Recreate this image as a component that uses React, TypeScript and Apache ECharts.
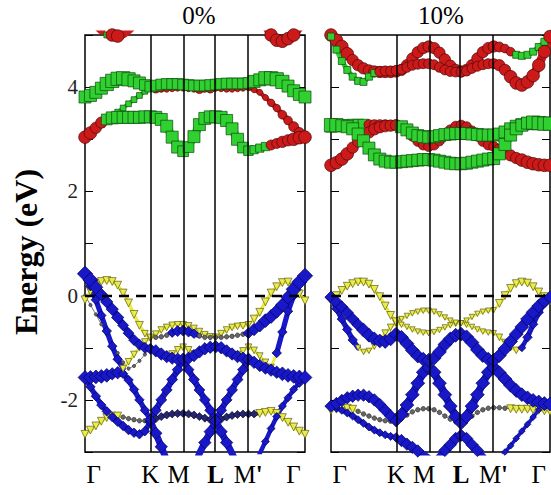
import React, { useEffect, useRef } from "react";
import * as echarts from "echarts";

const SERIF = '"Liberation Serif", "Times New Roman", "DejaVu Serif", serif';

// k-path sampling: Γ–K (12 steps), K–M, M–L, L–M' (6 steps each), M'–Γ (10 steps)
const K_PATH = [
  0, 0.0248, 0.0495, 0.0743, 0.099, 0.1238, 0.1485, 0.1733, 0.198, 0.2228, 0.2475, 0.2723, 0.297,
  0.3218, 0.3467, 0.3715, 0.3963, 0.4212, 0.446,
  0.4707, 0.4953, 0.52, 0.5447, 0.5693, 0.594,
  0.6188, 0.6437, 0.6685, 0.6933, 0.7182, 0.743,
  0.7687, 0.7944, 0.8201, 0.8458, 0.8715, 0.8972, 0.9229, 0.9486, 0.9743, 1.0,
];
const HIGH_SYM_K = [0.297, 0.446, 0.594, 0.743];
const X_LABEL_POS = [0.04, 0.297, 0.425, 0.594, 0.742, 0.948];
const X_LABELS = ["Γ", "K", "M", "{b|L}", "M{b|'}", "Γ"];
const Y_LABELS = [-2, 0, 2, 4];
const PANEL_TITLES = ["0%", "10%"];

// ---------------- 0 % panel ----------------
const L_G1_E = [3.81, 3.84, 3.9, 3.98, 4.06, 4.12, 4.16, 4.17, 4.15, 4.12, 4.08, 4.04, 4.01,
  4.03, 4.05, 4.06, 4.06, 4.06, 4.05,
  4.04, 4.03, 4.03, 4.03, 4.04, 4.05,
  4.06, 4.07, 4.07, 4.07, 4.07, 4.08,
  4.11, 4.14, 4.17, 4.17, 4.15, 4.1, 4.02, 3.93, 3.86, 3.81];
const L_G1_O = "ggggggggggggg gggggg gggggg gggggg gggggggggg";
const L_G1_W = "8888999998877 777777 777777 777777 8899998888";

const L_G2_E = [3.04, 3.12, 3.22, 3.32, 3.38, 3.41, 3.42, 3.42, 3.42, 3.42, 3.42, 3.43, 3.43,
  3.42, 3.38, 3.25, 3.04, 2.85, 2.77,
  2.85, 3.05, 3.28, 3.4, 3.43, 3.43,
  3.42, 3.36, 3.2, 3.0, 2.84, 2.78,
  2.8, 2.83, 2.86, 2.89, 2.92, 2.95, 2.98, 3.0, 3.03, 3.04];
const L_G2_O = "rrrrggggggggg gggggg gggggg gggggg gggrrrrrrr";
const L_G2_W = "8877788888888 888887 788888 888876 5556677888";

const L_G3_E = [3.04, 3.12, 3.2, 3.28, 3.36, 3.44, 3.52, 3.6, 3.68, 3.76, 3.84, 3.92, 3.99,
  3.97, 3.96, 3.96, 3.97, 3.98, 3.98,
  3.97, 3.96, 3.96, 3.96, 3.97, 3.98,
  3.97, 3.96, 3.96, 3.97, 3.98, 3.99,
  3.95, 3.9, 3.8, 3.7, 3.6, 3.47, 3.36, 3.24, 3.13, 3.04];
const L_G3_O = "ggggggggggggg rrrrrr rrrrrr rrrrrr rrrrrrrrrr";
const L_G3_W = "4333333333333 533333 335353 333333 3334455667";

const L_G4_E = [5.4, 5.3, 5.2, 5.1, 5.0, 5.0, 4.98, 5.02, 5.1, 5.2, 5.4, 5.6, 5.7,
  5.8, 5.8, 5.8, 5.8, 5.8, 5.8,
  5.8, 5.8, 5.8, 5.8, 5.8, 5.8,
  5.8, 5.8, 5.8, 5.8, 5.8, 5.8,
  5.6, 5.4, 5.2, 5.0, 4.9, 4.88, 4.93, 5.0, 5.15, 5.3];
const L_G4_O = "rrrrgrrrrrrrr rrrrrr rrrrrr rrrrrr rrrrrrrrrr";
const L_G4_W = "8884388888888 888888 888888 888888 8888888888";

const L_B1_E = [0.42, 0.3, 0.16, 0.02, -0.12, -0.26, -0.42, -0.57, -0.72, -0.85, -0.94, -1.0, -1.02,
  -1.06, -1.12, -1.17, -1.2, -1.22, -1.22,
  -1.2, -1.15, -1.08, -1.02, -0.99, -0.98,
  -1.0, -1.06, -1.12, -1.17, -1.2, -1.22,
  -1.28, -1.34, -1.39, -1.43, -1.47, -1.5, -1.53, -1.55, -1.56, -1.57];
const L_B1_O = "bbbbbbbbbbbbb bbbbbb bbbbbb bbbbbb bbbbbbbbbb";
const L_B1_W = "9987777666666 777777 777777 777777 7777788888";

const L_B2_E = [-0.08, 0.08, 0.2, 0.27, 0.29, 0.27, 0.2, 0.05, -0.14, -0.36, -0.57, -0.73, -0.82,
  -0.74, -0.66, -0.61, -0.57, -0.56, -0.56,
  -0.58, -0.63, -0.69, -0.75, -0.79, -0.8,
  -0.73, -0.66, -0.61, -0.59, -0.58, -0.56,
  -0.45, -0.32, -0.12, 0.05, 0.17, 0.25, 0.26, 0.16, 0.03, -0.1];
const L_B2_O = "yyyyyyyyyyyyy yyyyyy yyyyyy yyyyyy yyyyyyyyyy";
const L_B2_W = "5555555555544 444444 444444 444444 5555555555";

const L_B3_E = [0.4, 0.18, -0.08, -0.38, -0.68, -0.97, -1.22, -1.4, -1.27, -1.13, -1.0, -0.89, -0.8,
  -0.8, -0.79, -0.76, -0.71, -0.68, -0.67,
  -0.69, -0.73, -0.77, -0.8, -0.8, -0.8,
  -0.8, -0.79, -0.78, -0.76, -0.74, -0.72,
  -0.65, -0.58, -0.48, -0.4, -0.3, -0.18, -0.03, 0.12, 0.26, 0.38];
const L_B3_O = "bbbbbbbyyyyyy kkkbbb bbkkkk kkkkkb bbbbbbbbbb";
const L_B3_W = "6555555444444 222566 652222 222226 7788888999";

const L_B4_E = [0.0, -0.18, -0.36, -0.55, -0.74, -0.92, -1.1, -1.28, -1.4, -1.35, -1.25, -1.13, -1.02,
  -1.04, -1.08, -1.12, -1.12, -1.04, -0.99,
  -1.04, -1.12, -1.12, -1.07, -1.03, -1.01,
  -1.04, -1.08, -1.12, -1.13, -1.06, -0.99,
  -1.05, -1.16, -1.28, -1.38, -1.1, -0.7, -0.3, 0.0, 0.22, 0.38];
const L_B4_O = "kkkkkkkkkkkkk kkkyyy yykkkk kkkyyy yyyybbbbbb";
const L_B4_W = "1111111111111 111444 441111 111444 4444555555";

const L_B5_E = [-1.57, -1.57, -1.56, -1.55, -1.53, -1.5, -1.48, -1.5, -1.62, -1.8, -2.0, -2.2, -2.38,
  -2.64, -2.9, -3.16, -3.4, -3.6, -3.7,
  -3.6, -3.3, -3.03, -2.82, -2.61, -2.4,
  -2.61, -2.82, -3.03, -3.25, -3.45, -3.6,
  -3.3, -3.03, -2.8, -2.55, -2.32, -2.12, -1.96, -1.8, -1.67, -1.57];
const L_B5_O = "bbbbbbbbbbbbb bbbbbb bbbbbb bbbbbb bbbbbbbbbb";
const L_B5_W = "8888877555556 777777 777777 777777 4444444456";

const L_B6_E = [-1.57, -1.75, -1.93, -2.1, -2.22, -2.33, -2.42, -2.5, -2.58, -2.63, -2.66, -2.6, -2.42,
  -2.2, -2.0, -1.81, -1.61, -1.42, -1.22,
  -1.42, -1.61, -1.81, -2.0, -2.2, -2.4,
  -2.2, -2.0, -1.81, -1.61, -1.42, -1.22,
  -1.28, -1.34, -1.39, -1.43, -1.47, -1.5, -1.53, -1.55, -1.56, -1.57];
const L_B6_O = "bbbbbbbbbbbbb bbbbbb bbbbbb bbbbbb bbbbbbbbbb";
const L_B6_W = "5555555555556 666666 666666 666666 3333333333";

const L_B7_E = [-2.66, -2.58, -2.5, -2.41, -2.34, -2.31, -2.31, -2.33, -2.36, -2.38, -2.4, -2.4, -2.4,
  -2.36, -2.32, -2.29, -2.27, -2.26, -2.26,
  -2.27, -2.29, -2.32, -2.35, -2.38, -2.4,
  -2.37, -2.33, -2.3, -2.28, -2.27, -2.27,
  -2.27, -2.26, -2.24, -2.22, -2.26, -2.34, -2.43, -2.52, -2.6, -2.66];
const L_B7_O = "yyyyyyykkkkkk nnnnnn nnnnnn nnnnnn nyyyyyyyyy";
const L_B7_W = "5555555222222 444444 444444 444444 4555555555";

// ---------------- 10 % panel ----------------
const R_C1_E = [5.0, 4.9, 4.78, 4.64, 4.52, 4.42, 4.36, 4.32, 4.3, 4.29, 4.29, 4.29, 4.3,
  4.33, 4.42, 4.55, 4.67, 4.75, 4.78,
  4.75, 4.66, 4.53, 4.41, 4.33, 4.3,
  4.33, 4.42, 4.55, 4.67, 4.75, 4.78,
  4.77, 4.74, 4.68, 4.62, 4.6, 4.62, 4.68, 4.77, 4.87, 4.97];
const R_C1_O = "rrrrrrrrrrrrr rrrrrr rrrrrr rrrrrr rrrggggggg";
const R_C1_W = "8888777777777 777777 777777 777777 6554444445";

const R_C2_E = [4.97, 4.72, 4.5, 4.33, 4.2, 4.12, 4.1, 4.2, 4.27, 4.3, 4.31, 4.31, 4.32,
  4.34, 4.38, 4.42, 4.44, 4.45, 4.45,
  4.43, 4.38, 4.33, 4.3, 4.29, 4.29,
  4.31, 4.36, 4.4, 4.43, 4.45, 4.45,
  4.42, 4.33, 4.2, 4.08, 4.04, 4.1, 4.22, 4.42, 4.68, 4.97];
const R_C2_O = "gggggggggrrrr rrrrrr rrrrrr rrrrrr rrrrrrrrrr";
const R_C2_W = "4444444446666 666666 666666 666666 7788888888";

const R_C3_E = [3.27, 3.27, 3.26, 3.24, 3.2, 3.1, 2.97, 2.83, 2.7, 2.62, 2.58, 2.56, 2.56,
  2.57, 2.58, 2.59, 2.6, 2.61, 2.61,
  2.6, 2.58, 2.56, 2.54, 2.53, 2.53,
  2.54, 2.56, 2.58, 2.6, 2.62, 2.63,
  2.72, 2.9, 3.08, 3.2, 3.27, 3.31, 3.32, 3.31, 3.3, 3.3];
const R_C3_O = "ggggggggggggg gggggg gggggg gggggg gggggggggg";
const R_C3_W = "9988888888888 888888 888888 888888 8888889999";

const R_C4_E = [2.5, 2.55, 2.62, 2.72, 2.84, 2.96, 3.05, 3.13, 3.19, 3.23, 3.25, 3.26, 3.27,
  3.24, 3.18, 3.12, 3.07, 3.05, 3.04,
  3.05, 3.07, 3.09, 3.1, 3.11, 3.11,
  3.11, 3.1, 3.09, 3.08, 3.08, 3.08,
  3.1, 3.14, 3.2, 3.25, 3.28, 3.3, 3.3, 3.3, 3.3, 3.3];
const R_C4_O = "rrrrrrrrrrrrr gggggg gggggg gggggg gggggggggg";
const R_C4_W = "8888777777777 888888 888888 888888 8888888888";

const R_C5_E = [3.24, 3.25, 3.26, 3.27, 3.28, 3.28, 3.28, 3.28, 3.28, 3.28, 3.28, 3.27, 3.27,
  3.24, 3.16, 3.06, 2.96, 2.89, 2.86,
  2.89, 2.97, 3.08, 3.18, 3.25, 3.27,
  3.24, 3.16, 3.06, 2.96, 2.89, 2.86,
  2.8, 2.74, 2.69, 2.64, 2.6, 2.56, 2.53, 2.51, 2.5, 2.5];
const R_C5_O = "gggggggrrrrrr rrrrrr rrrrrr rrrrrr rrrrrrrrrr";
const R_C5_W = "7777777666666 666666 666666 666666 7777888888";

const R_V1_E = [-0.03, -0.12, -0.22, -0.33, -0.45, -0.56, -0.66, -0.76, -0.83, -0.87, -0.88, -0.83, -0.74,
  -0.8, -0.92, -1.05, -1.16, -1.22, -1.24,
  -1.2, -1.08, -0.94, -0.83, -0.76, -0.74,
  -0.79, -0.9, -1.04, -1.15, -1.22, -1.24,
  -1.15, -1.02, -0.88, -0.74, -0.6, -0.45, -0.32, -0.2, -0.1, -0.03];
const R_V1_O = "bbbbbbbbbbbbb bbbbbb bbbbbb bbbbbb bbbbbbbbbb";
const R_V1_W = "7777778888888 888888 888888 888888 8888888887";

const R_Y1_E = [-0.1, 0.0, 0.1, 0.18, 0.23, 0.26, 0.26, 0.22, 0.12, -0.02, -0.2, -0.38, -0.5,
  -0.45, -0.39, -0.34, -0.31, -0.29, -0.29,
  -0.31, -0.36, -0.42, -0.48, -0.52, -0.53,
  -0.48, -0.41, -0.35, -0.31, -0.29, -0.28,
  -0.15, 0.0, 0.14, 0.23, 0.26, 0.24, 0.17, 0.07, -0.02, -0.1];
const R_Y1_O = "yyyyyyyyyyyyy yyyyyy yyyyyy yyyyyy yyyyyyyyyy";
const R_Y1_W = "5555555555555 333333 333333 333333 5555555555";

const R_Y2_E = [-0.05, -0.25, -0.45, -0.65, -0.85, -1.0, -1.08, -1.06, -0.97, -0.85, -0.72, -0.61, -0.53,
  -0.56, -0.6, -0.65, -0.69, -0.71, -0.72,
  -0.7, -0.66, -0.61, -0.57, -0.54, -0.53,
  -0.56, -0.6, -0.65, -0.69, -0.71, -0.72,
  -0.8, -0.9, -1.0, -1.05, -1.0, -0.8, -0.55, -0.32, -0.15, -0.05];
const R_Y2_O = "bbbbbyyyyyyyy yyyyyy yyyyyy yyyyyy yyyybbbbbb";
const R_Y2_W = "5555533344444 333333 333333 333333 4444455555";

const R_V2_E = [-2.12, -2.07, -2.01, -1.96, -1.93, -1.91, -1.91, -1.94, -2.0, -2.09, -2.2, -2.31, -2.4,
  -2.28, -2.1, -1.9, -1.68, -1.47, -1.38,
  -1.47, -1.68, -1.9, -2.12, -2.32, -2.44,
  -2.32, -2.12, -1.9, -1.68, -1.47, -1.38,
  -1.48, -1.6, -1.72, -1.82, -1.9, -1.96, -2.01, -2.04, -2.07, -2.08];
const R_V2_O = "bbbbbbbbbbbbb bbbbbb bbbbbb bbbbbb bbbbbbbbbb";
const R_V2_W = "7777777777777 888888 888888 888888 8888888888";

const R_Y3_E = [-2.2, -2.18, -2.16, -2.16, -2.18, -2.22, -2.27, -2.31, -2.35, -2.38, -2.4, -2.41, -2.41,
  -2.36, -2.29, -2.23, -2.19, -2.17, -2.17,
  -2.19, -2.24, -2.31, -2.37, -2.42, -2.44,
  -2.39, -2.31, -2.24, -2.19, -2.16, -2.15,
  -2.15, -2.16, -2.17, -2.18, -2.18, -2.18, -2.19, -2.2, -2.21, -2.22];
const R_Y3_O = "yyyyykkkkkkkk kkkkkk kkkkkk kkkkkk kkyyyyyyyy";
const R_Y3_W = "5555522222222 222222 222222 222222 2255555555";

const R_V3_E = [-2.13, -2.16, -2.2, -2.25, -2.31, -2.38, -2.45, -2.52, -2.58, -2.63, -2.67, -2.7, -2.72,
  -2.78, -2.85, -2.91, -2.98, -3.04, -3.12,
  -3.2, -3.09, -2.97, -2.86, -2.74, -2.68,
  -2.74, -2.86, -2.97, -3.09, -3.2, -3.3,
  -3.15, -3.0, -2.88, -2.74, -2.6, -2.47, -2.33, -2.19, -2.14, -2.12];
const R_V3_O = "bbbbbbbbbbbbb bbbbbb bbbbbb bbbbbb bbbbbbbbbb";
const R_V3_W = "4444444444445 777777 777777 777777 3333333333";

const PANEL_BANDS: [number[], string, string][][] = [
  [
    [L_B4_E, L_B4_O, L_B4_W],
    [L_B7_E, L_B7_O, L_B7_W],
    [L_B2_E, L_B2_O, L_B2_W],
    [L_G4_E, L_G4_O, L_G4_W],
    [L_G3_E, L_G3_O, L_G3_W],
    [L_G2_E, L_G2_O, L_G2_W],
    [L_G1_E, L_G1_O, L_G1_W],
    [L_B6_E, L_B6_O, L_B6_W],
    [L_B5_E, L_B5_O, L_B5_W],
    [L_B3_E, L_B3_O, L_B3_W],
    [L_B1_E, L_B1_O, L_B1_W],
  ],
  [
    [R_Y3_E, R_Y3_O, R_Y3_W],
    [R_V3_E, R_V3_O, R_V3_W],
    [R_Y2_E, R_Y2_O, R_Y2_W],
    [R_Y1_E, R_Y1_O, R_Y1_W],
    [R_C1_E, R_C1_O, R_C1_W],
    [R_C2_E, R_C2_O, R_C2_W],
    [R_C5_E, R_C5_O, R_C5_W],
    [R_C4_E, R_C4_O, R_C4_W],
    [R_C3_E, R_C3_O, R_C3_W],
    [R_V2_E, R_V2_O, R_V2_W],
    [R_V1_E, R_V1_O, R_V1_W],
  ],
];

const ORB_STYLE: Record<string, { symbol: string; color: string; border: string; rotate?: number; scale: number; band: number }> = {
  b: { symbol: "diamond", color: "#1818c8", border: "#00005a", scale: 1.15, band: 0.55 },
  g: { symbol: "rect", color: "#30d030", border: "#0c4a0c", scale: 1.0, band: 0.7 },
  r: { symbol: "circle", color: "#cc1a1a", border: "#4a0808", scale: 1.05, band: 0.7 },
  y: { symbol: "triangle", color: "#ecec48", border: "#5a5a18", rotate: 180, scale: 0.95, band: 0.45 },
  k: { symbol: "circle", color: "#666666", border: "#333333", scale: 1.0, band: 0 },
  n: { symbol: "diamond", color: "#26266e", border: "#0a0a30", scale: 1.15, band: 0.45 },
};

function clean(s: string) {
  return s.replace(/\s/g, "");
}

function sizeOf(c: string, wt: number) {
  return (2 + wt * 1.25) * ORB_STYLE[c].scale;
}

function bandSeries(panel: number, E: number[], orbStr: string, wStr: string) {
  const o = clean(orbStr);
  const w = clean(wStr);
  const orbAt = (i: number) => o[i] || o[o.length - 1];
  const wAt = (i: number) => Number(w[i] || w[w.length - 1]);
  const out: any[] = [];

  // under-stroke runs: consecutive points sharing orbital & weight
  let start = 0;
  const pushRun = (a: number, b: number) => {
    const c = orbAt(a);
    const st = ORB_STYLE[c];
    const wt = wAt(a);
    const width = st.band > 0 && wt >= 3 ? sizeOf(c, wt) * st.band : 1;
    out.push({
      type: "line",
      xAxisIndex: panel,
      yAxisIndex: panel * 2,
      data: K_PATH.slice(a, b + 1).map((k, j) => [k, E[a + j]]),
      symbol: "none",
      clip: true,
      silent: true,
      lineStyle: { width, color: st.band > 0 && wt >= 3 ? st.color : "#777777", cap: "round", join: "round" },
      emphasis: { disabled: true },
      z: 2,
    });
  };
  for (let i = 1; i < K_PATH.length; i++) {
    if (orbAt(i) !== orbAt(start) || wAt(i) !== wAt(start)) {
      pushRun(start, i);
      start = i;
    }
  }
  if (start < K_PATH.length - 1) pushRun(start, K_PATH.length - 1);

  const data = K_PATH.map((k, i) => {
    const c = orbAt(i);
    const st = ORB_STYLE[c];
    return {
      value: [k, E[i]],
      symbol: st.symbol,
      symbolSize: sizeOf(c, wAt(i)),
      symbolRotate: st.rotate || 0,
      itemStyle: { color: st.color, borderColor: st.border, borderWidth: 0.7 },
    };
  });
  out.push({
    type: "line",
    xAxisIndex: panel,
    yAxisIndex: panel * 2,
    data,
    showSymbol: true,
    showAllSymbol: true,
    clip: true,
    silent: true,
    lineStyle: { width: 0, opacity: 0 },
    emphasis: { disabled: true },
    z: 2,
  });
  return out;
}

function xLabel(v: number) {
  let best = 0;
  for (let i = 1; i < X_LABEL_POS.length; i++) {
    if (Math.abs(X_LABEL_POS[i] - v) < Math.abs(X_LABEL_POS[best] - v)) best = i;
  }
  return X_LABELS[best];
}

function buildOption() {
  const grids = [
    { left: 85, top: 35, width: 220, height: 417 },
    { left: 331, top: 35, width: 219, height: 417 },
  ].map((g) => ({ ...g, show: true, borderColor: "#000", borderWidth: 1.5, backgroundColor: "transparent" }));

  const xAxes = [0, 1].map((p) => ({
    type: "value",
    gridIndex: p,
    min: 0,
    max: 1,
    axisLine: { show: false },
    axisTick: { show: false },
    splitLine: { show: false },
    axisLabel: {
      customValues: X_LABEL_POS,
      formatter: (v: number) => xLabel(v),
      fontFamily: SERIF,
      fontSize: 25,
      color: "#000",
      margin: 10,
      rich: { b: { fontFamily: SERIF, fontSize: 25, fontWeight: "bold", color: "#000" } },
    },
  }));

  const yAxes: any[] = [];
  [0, 1].forEach((p) => {
    ["left", "right"].forEach((pos) => {
      yAxes.push({
        type: "value",
        gridIndex: p,
        position: pos,
        min: -3,
        max: 5,
        interval: 1,
        axisLine: { show: false },
        axisTick: { show: true, inside: true, length: 8, lineStyle: { color: "#000", width: 1 } },
        splitLine: { show: false },
        axisLabel: {
          show: p === 0 && pos === "left",
          formatter: (v: number) => {
            const r = Math.round(v);
            return Math.abs(v - r) < 1e-6 && Y_LABELS.includes(r) ? String(r) : "";
          },
          fontFamily: SERIF,
          fontSize: 21,
          color: "#222",
          margin: 7,
        },
      });
    });
  });

  const series: any[] = [];
  PANEL_BANDS.forEach((bands, p) => {
    bands.forEach(([E, o, w]) => series.push(...bandSeries(p, E, o, w)));
    series.push({
      type: "line",
      xAxisIndex: p,
      yAxisIndex: p * 2,
      data: [],
      silent: true,
      z: 6,
      markLine: {
        silent: true,
        symbol: ["none", "none"],
        label: { show: false },
        animation: false,
        data: [
          ...HIGH_SYM_K.map((k) => ({ xAxis: k, lineStyle: { color: "#000", width: 1.5, type: "solid" } })),
          { yAxis: 0, lineStyle: { color: "#000", width: 2.4, type: [10, 7] } },
        ],
      },
    });
  });

  return {
    animation: false,
    backgroundColor: "#fff",
    grid: grids,
    xAxis: xAxes,
    yAxis: yAxes,
    series,
    graphic: [
      {
        type: "text",
        x: 199,
        y: 15,
        style: { text: PANEL_TITLES[0], font: `25px ${SERIF}`, textAlign: "center", textVerticalAlign: "middle", fill: "#000" },
      },
      {
        type: "text",
        x: 441,
        y: 15,
        style: { text: PANEL_TITLES[1], font: `25px ${SERIF}`, textAlign: "center", textVerticalAlign: "middle", fill: "#000" },
      },
      {
        type: "text",
        x: 26,
        y: 252,
        rotation: Math.PI / 2,
        style: { text: "Energy (eV)", font: `bold 32px ${SERIF}`, textAlign: "center", textVerticalAlign: "middle", fill: "#000" },
      },
    ],
  };
}

export default function App() {
  const ref = useRef<HTMLDivElement>(null);
  useEffect(() => {
    document.body.style.margin = "0";
    const chart = echarts.init(ref.current!, undefined, { renderer: "svg", width: 551, height: 495 });
    chart.setOption(buildOption() as any);
    return () => chart.dispose();
  }, []);
  return (
    <div
      ref={ref}
      style={{ position: "absolute", left: 0, top: 0, width: 551, height: 495, background: "#fff" }}
    />
  );
}
